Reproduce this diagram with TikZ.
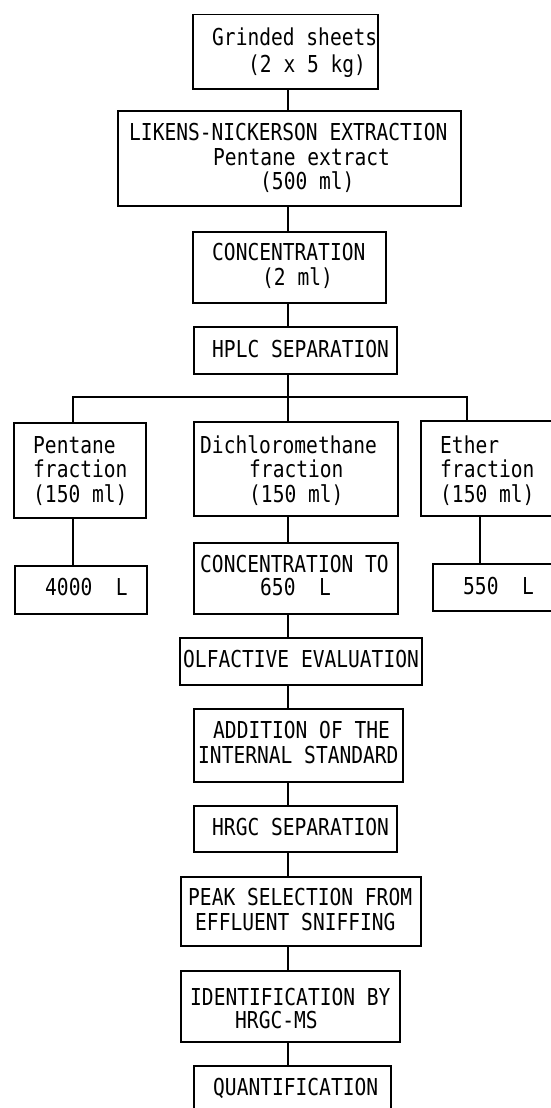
\documentclass[tikz,border=0pt]{standalone}
\usepackage{fontspec}
\newfontfamily\tw[FakeStretch=0.84]{DejaVu Sans Mono}
\tikzset{
  box/.style={draw, line width=1.5pt, rectangle, inner sep=0pt, anchor=north west},
  lbl/.style={inner sep=0pt, anchor=base west, font=\tw\fontsize{23.3}{25}\selectfont},
  link/.style={line width=1.3pt}
}
\newcommand\boxat[5]{\node[box, minimum width={#4-#2}, minimum height={#5-#3}] (#1) at (#2,#3) {};}
\newcommand\txt[4]{\node[lbl] (#1) at (#2,#3) {#4};}
\begin{document}
\begin{tikzpicture}[x=1pt,y=-1pt]
\useasboundingbox (0,0) rectangle (550,1108);
% boxes
\boxat{b1}{192}{14}{377}{88}
\boxat{b2}{117}{110}{460}{205}
\boxat{b3}{192}{231}{385}{302}
\boxat{b4}{193}{326}{396}{373}
\boxat{pen}{13}{422}{145}{517}
\boxat{dcm}{193}{421}{397}{515}
\boxat{eth}{420}{420}{556}{515}
\boxat{vA}{14}{565}{146}{613}
\boxat{vB}{432}{563}{556}{610}
\boxat{ct}{193}{542}{397}{613}
\boxat{olf}{179}{637}{421}{684}
\boxat{add}{193}{708}{402}{781}
\boxat{hrgc}{193}{805}{396}{851}
\boxat{peak}{180}{876}{420}{945}
\boxat{ident}{180}{970}{399}{1041}
\boxat{quant}{193}{1065}{390}{1116}
% texts
\txt{t1a}{212}{46}{Grinded sheets}
\txt{t1b}{248}{72}{(2 x 5 kg)}
\txt{t2a}{129}{140}{LIKENS-NICKERSON EXTRACTION}
\txt{t2b}{213}{165}{Pentane extract}
\txt{t2c}{260}{189}{(500 ml)}
\txt{t3a}{212}{260}{CONCENTRATION}
\txt{t3b}{262}{285}{(2 ml)}
\txt{t4a}{212}{357}{HPLC SEPARATION}
\txt{tpa}{33}{453}{Pentane}
\txt{tpb}{33}{477}{fraction}
\txt{tpc}{33}{502}{(150 ml)}
\txt{tda}{200}{453}{Dichloromethane}
\txt{tdb}{249}{477}{fraction}
\txt{tdc}{249}{502}{(150 ml)}
\txt{tea}{440}{453}{Ether}
\txt{teb}{440}{477}{fraction}
\txt{tec}{440}{502}{(150 ml)}
\txt{tva}{45}{595}{4000\hphantom{00}L}
\txt{tvb}{463}{594}{550\hphantom{00}L}
\txt{tca}{200}{572}{CONCENTRATION TO}
\txt{tcb}{260}{595}{650\hphantom{00}L}
\txt{toa}{183}{667}{OLFACTIVE EVALUATION}
\txt{taa}{213}{738}{ADDITION OF THE}
\txt{tab}{198}{763}{INTERNAL STANDARD}
\txt{tha}{212}{835}{HRGC SEPARATION}
\txt{tka}{188}{905}{PEAK SELECTION FROM}
\txt{tkb}{195}{930}{EFFLUENT SNIFFING}
\txt{tia}{190}{1005}{IDENTIFICATION BY}
\txt{tib}{235}{1028}{HRGC-MS}
\txt{tqa}{213}{1095}{QUANTIFICATION}
% connectors
\coordinate (sp) at (288,0);
\coordinate (lf) at (73,0);
\coordinate (rt) at (467,0);
\coordinate (rt2) at (480,0);
\coordinate (br) at (288,397);
\draw[link] (b1.south -| sp) -- (b2.north -| sp);
\draw[link] (b2.south -| sp) -- (b3.north -| sp);
\draw[link] (b3.south -| sp) -- (b4.north -| sp);
\draw[link] (b4.south -| sp) -- (dcm.north -| sp);
\draw[link] (pen.north -| lf) -- (lf |- br) -- (rt |- br) -- (eth.north -| rt);
\draw[link] (pen.south -| lf) -- (vA.north -| lf);
\draw[link] (eth.south -| rt2) -- (vB.north -| rt2);
\draw[link] (dcm.south -| sp) -- (ct.north -| sp);
\draw[link] (ct.south -| sp) -- (olf.north -| sp);
\draw[link] (olf.south -| sp) -- (add.north -| sp);
\draw[link] (add.south -| sp) -- (hrgc.north -| sp);
\draw[link] (hrgc.south -| sp) -- (peak.north -| sp);
\draw[link] (peak.south -| sp) -- (ident.north -| sp);
\draw[link] (ident.south -| sp) -- (quant.north -| sp);
\end{tikzpicture}
\end{document}
